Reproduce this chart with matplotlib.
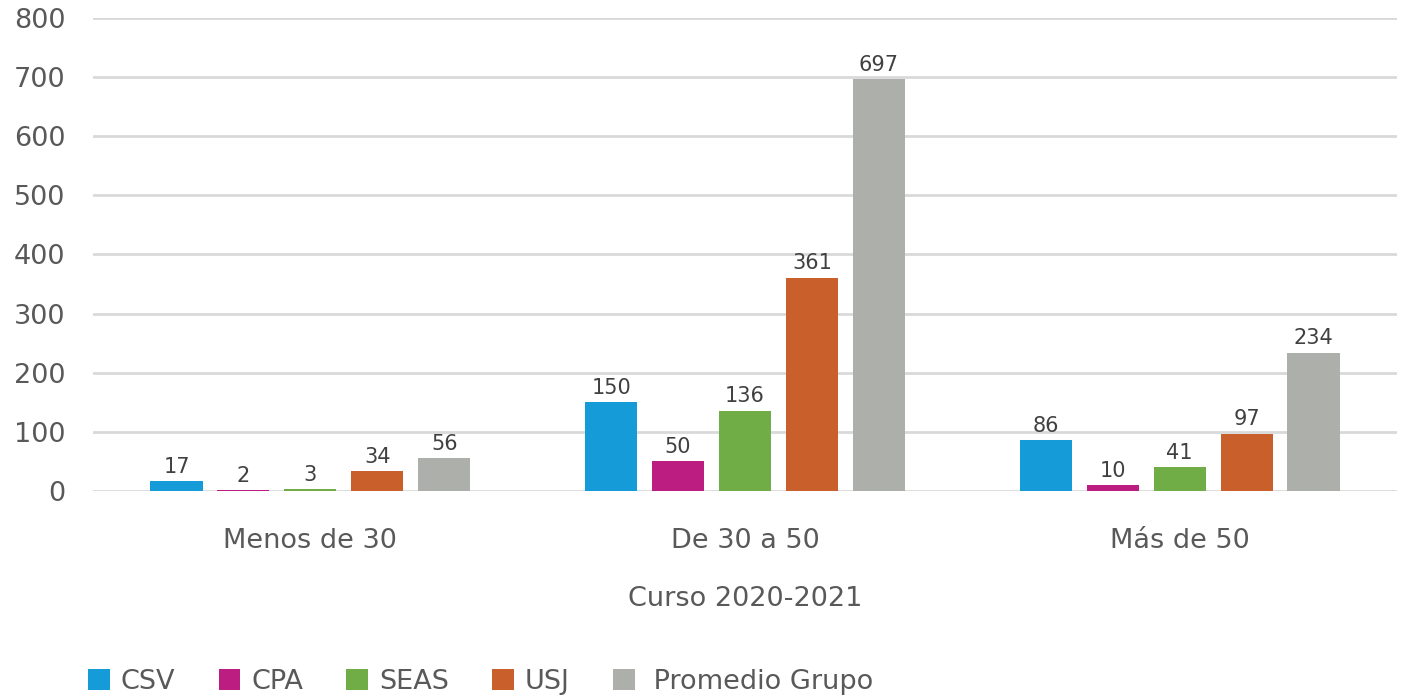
import matplotlib
matplotlib.use("Agg")
import matplotlib.pyplot as plt
import numpy as np
from matplotlib.patches import Patch

categories = ["Menos de 30", "De 30 a 50", "Más de 50"]
series_names = ["CSV", "CPA", "SEAS", "USJ", " Promedio Grupo"]
csv = [17, 150, 86]
cpa = [2, 50, 10]
seas = [3, 136, 41]
usj = [34, 361, 97]
promedio = [56, 697, 234]
yticks = [0, 100, 200, 300, 400, 500, 600, 700, 800]
xlabel = "Curso 2020-2021"

colors = ["#159cd8", "#bb1d80", "#70ad47", "#c9602b", "#adb0aa"]
series = [csv, cpa, seas, usj, promedio]

plt.rcParams['font.family'] = ['DejaVu Sans']
text_color = "#595959"

fig = plt.figure(figsize=(14.05, 6.97), dpi=100)
ax = fig.add_axes([93/1405, 1-491/697, (1397-93)/1405, (491-18)/697])

x = np.arange(len(categories))
step = 0.154
width = 0.12
for i, (vals, c) in enumerate(zip(series, colors)):
    pos = x + (i - 2) * step
    bars = ax.bar(pos, vals, width=width, color=c, zorder=3)
    for b, v in zip(bars, vals):
        ax.annotate(str(v), (b.get_x() + b.get_width()/2, v), xytext=(0, 3),
                    textcoords="offset points", ha="center", va="bottom",
                    fontsize=15, color="#404040")

ax.set_xlim(-0.5, 2.5)
ax.set_ylim(0, 800)
ax.set_yticks(yticks)
ax.set_yticklabels([str(t) for t in yticks], fontsize=19.5, color=text_color)
ax.set_xticks(x)
ax.set_xticklabels(categories, fontsize=19.5, color=text_color)
ax.tick_params(axis='y', length=0, pad=20)
ax.tick_params(axis='x', length=0, pad=27)
ax.grid(axis='y', color="#d9d9d9", linewidth=2, zorder=0)
for s in ax.spines.values():
    s.set_visible(False)
ax.set_xlabel(xlabel, fontsize=19.5, color=text_color, labelpad=23)

handles = [Patch(facecolor=c, edgecolor='none') for c in colors]
fig.legend(handles, series_names, loc='lower left', bbox_to_anchor=(64/1405, -0.032),
           ncol=5, frameon=False, fontsize=19.5, handlelength=0.8, handleheight=0.8,
           handletextpad=0.4, columnspacing=1.6, labelcolor=text_color)

fig.savefig("out.png", dpi=100, facecolor="white")
